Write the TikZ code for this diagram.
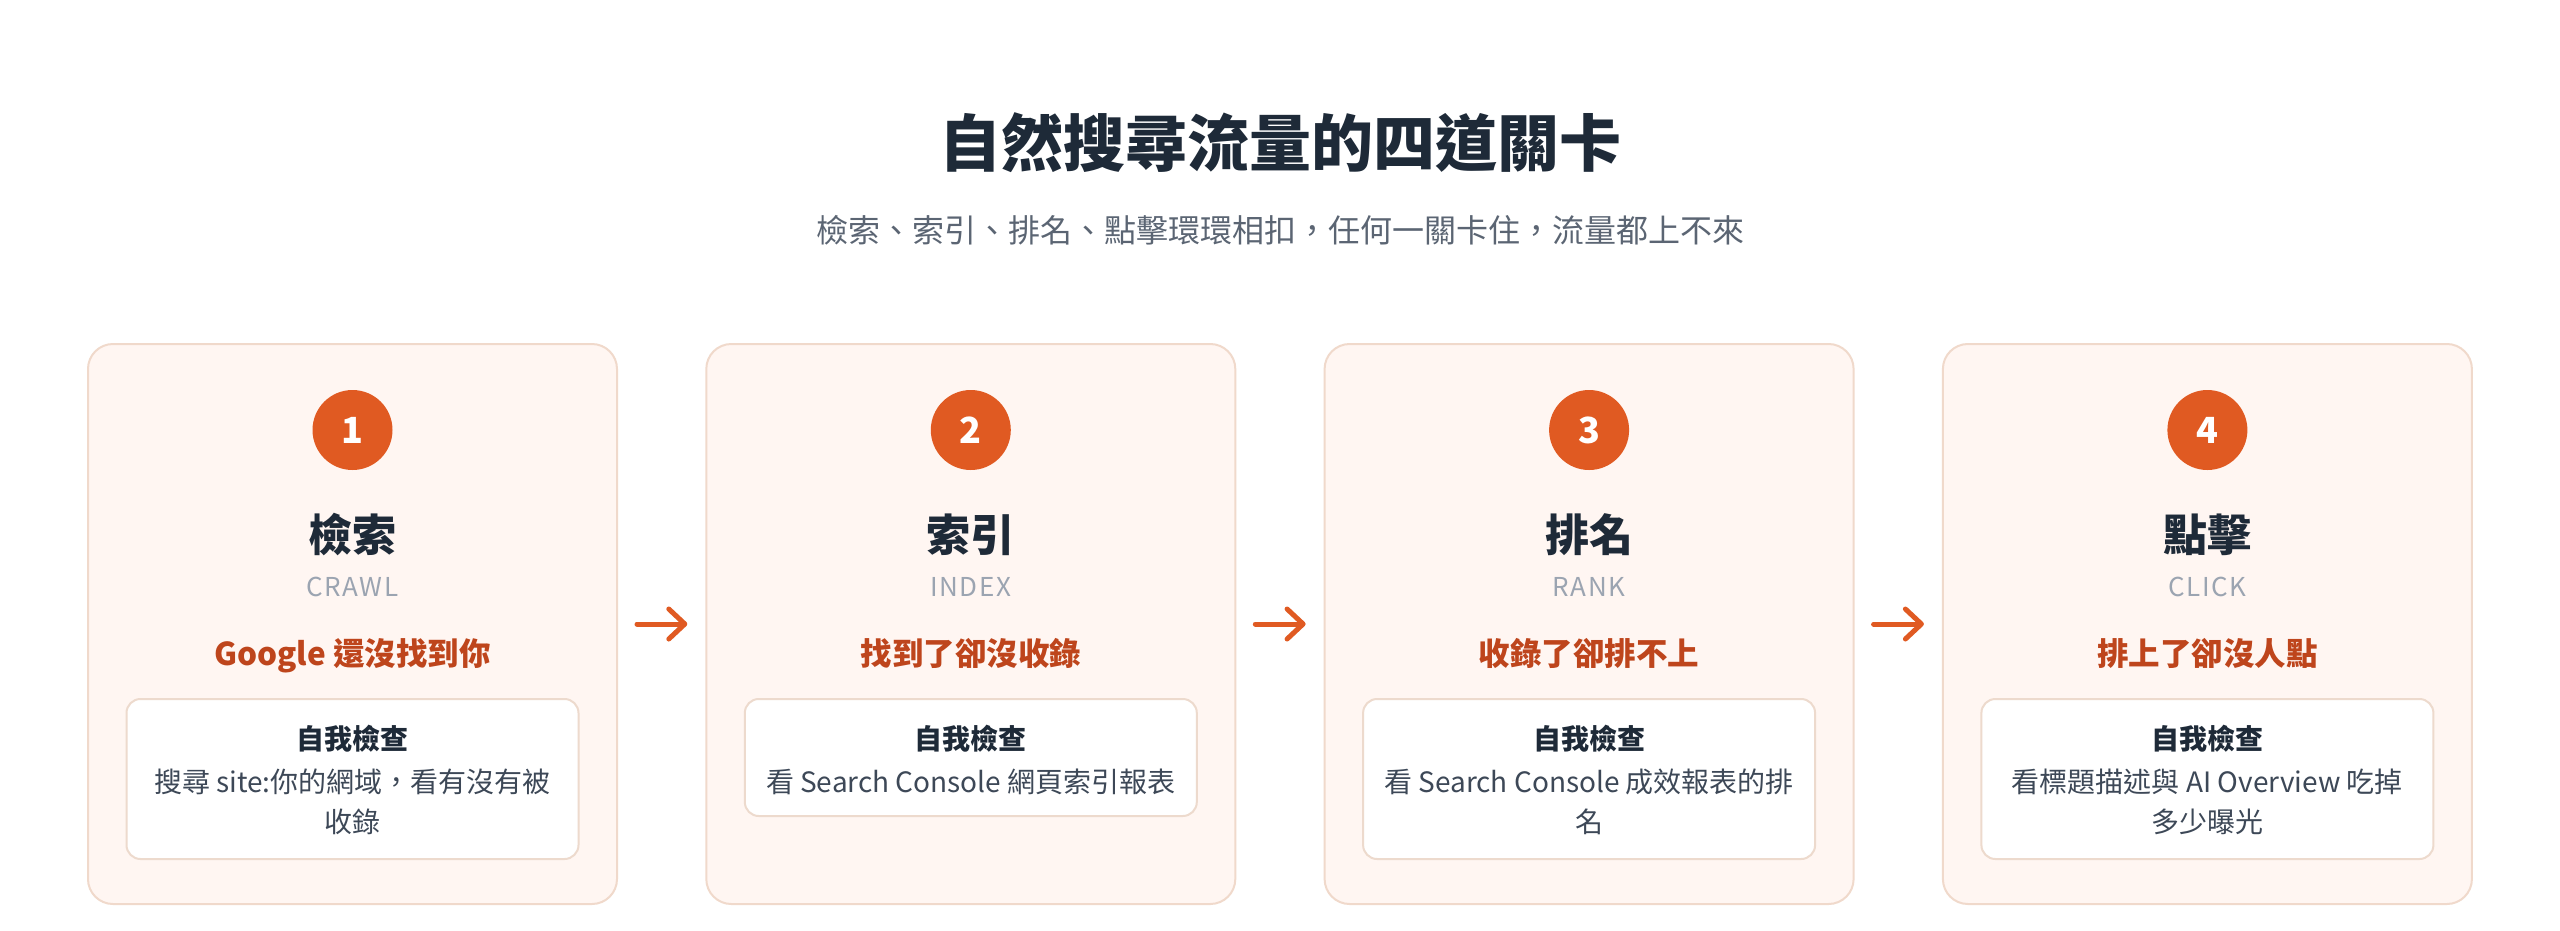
\documentclass[tikz,border=0pt]{standalone}
\usepackage{fontspec}
\setmainfont{Noto Sans CJK TC}
\usetikzlibrary{arrows.meta}
\definecolor{cardfill}{HTML}{FFF6F2}
\definecolor{cardline}{HTML}{F0D9CB}
\definecolor{innerline}{HTML}{EDDACD}
\definecolor{accent}{HTML}{E05A22}
\definecolor{accentdark}{HTML}{BE451C}
\definecolor{ink}{HTML}{1E2A38}
\definecolor{muted}{HTML}{5B6573}
\definecolor{latin}{HTML}{9BA4B1}
\definecolor{bodyink}{HTML}{3D4857}
\newcommand{\fs}[2]{\fontsize{#1}{#2}\selectfont}
\begin{document}
\begin{tikzpicture}[x=1pt,y=-1pt,
  cardbox/.style={draw=cardline, fill=cardfill, line width=2pt, rounded corners=25pt,
    minimum width=529pt, minimum height=560pt, inner sep=0pt},
  innerbox/.style={draw=innerline, fill=white, line width=2pt, rounded corners=14pt,
    minimum width=452pt, inner sep=0pt},
  numdot/.style={circle, fill=accent, minimum size=80pt, inner sep=0pt,
    text=white, font=\bfseries\fs{36}{40}},
  headtxt/.style={anchor=base, text=ink, font=\bfseries\fs{44}{50}, inner sep=0pt},
  engtxt/.style={anchor=base, text=latin, font=\fs{26}{30}\addfontfeature{LetterSpace=6}, inner sep=0pt},
  redtxt/.style={anchor=base, text=accentdark, font=\bfseries\fs{31.5}{36}, inner sep=0pt},
  checktxt/.style={anchor=base, text=ink, font=\bfseries\fs{28}{34}, inner sep=0pt},
  bodytxt/.style={anchor=base, text=bodyink, font=\fs{28}{34}, inner sep=0pt},
  flow/.style={draw=accent, line width=5pt, line cap=round,
    -{Straight Barb[length=16pt, width=30pt, round]}, shorten <=19pt, shorten >=18pt}
]
\useasboundingbox[fill=white] (0,0) rectangle (2560,930);

\node[anchor=base, text=ink, font=\bfseries\fs{62}{70}, inner sep=0pt] (title) at (1280,166) {自然搜尋流量的四道關卡};
\node[anchor=base, text=muted, font=\fs{32}{36}, inner sep=0pt] (subtitle) at (1280,242) {檢索、索引、排名、點擊環環相扣，任何一關卡住，流量都上不來};

% card 1
\node[cardbox] (c1) at (352.5,624) {};
\node[numdot] (n1) at (352.5,430) {1};
\node[headtxt] (h1) at (352.5,551) {檢索};
\node[engtxt] (e1) at (352.5,596) {CRAWL};
\node[redtxt] (r1) at (352.5,665) {Google 還沒找到你};
\node[innerbox, minimum height=160pt] (b1) at (352.5,779) {};
\node[checktxt] (k1) at (352.5,749) {自我檢查};
\node[bodytxt] (t1a) at (352.5,792) {搜尋 site:你的網域，看有沒有被};
\node[bodytxt] (t1b) at (352.5,832) {收錄};

% card 2
\node[cardbox] (c2) at (970.8,624) {};
\node[numdot] (n2) at (970.8,430) {2};
\node[headtxt] (h2) at (970.8,551) {索引};
\node[engtxt] (e2) at (970.8,596) {INDEX};
\node[redtxt] (r2) at (970.8,665) {找到了卻沒收錄};
\node[innerbox, minimum height=117pt] (b2) at (970.8,757.5) {};
\node[checktxt] (k2) at (970.8,749) {自我檢查};
\node[bodytxt] (t2a) at (970.8,792) {看 Search Console 網頁索引報表};

% card 3
\node[cardbox] (c3) at (1589.1,624) {};
\node[numdot] (n3) at (1589.1,430) {3};
\node[headtxt] (h3) at (1589.1,551) {排名};
\node[engtxt] (e3) at (1589.1,596) {RANK};
\node[redtxt] (r3) at (1589.1,665) {收錄了卻排不上};
\node[innerbox, minimum height=160pt] (b3) at (1589.1,779) {};
\node[checktxt] (k3) at (1589.1,749) {自我檢查};
\node[bodytxt] (t3a) at (1589.1,792) {看 Search Console 成效報表的排};
\node[bodytxt] (t3b) at (1589.1,832) {名};

% card 4
\node[cardbox] (c4) at (2207.4,624) {};
\node[numdot] (n4) at (2207.4,430) {4};
\node[headtxt] (h4) at (2207.4,551) {點擊};
\node[engtxt] (e4) at (2207.4,596) {CLICK};
\node[redtxt] (r4) at (2207.4,665) {排上了卻沒人點};
\node[innerbox, minimum height=160pt] (b4) at (2207.4,779) {};
\node[checktxt] (k4) at (2207.4,749) {自我檢查};
\node[bodytxt] (t4a) at (2207.4,792) {看標題描述與 AI Overview 吃掉};
\node[bodytxt] (t4b) at (2207.4,832) {多少曝光};

% arrows
\draw[flow] (c1.east) -- (c2.west);
\draw[flow] (c2.east) -- (c3.west);
\draw[flow] (c3.east) -- (c4.west);
\end{tikzpicture}
\end{document}
